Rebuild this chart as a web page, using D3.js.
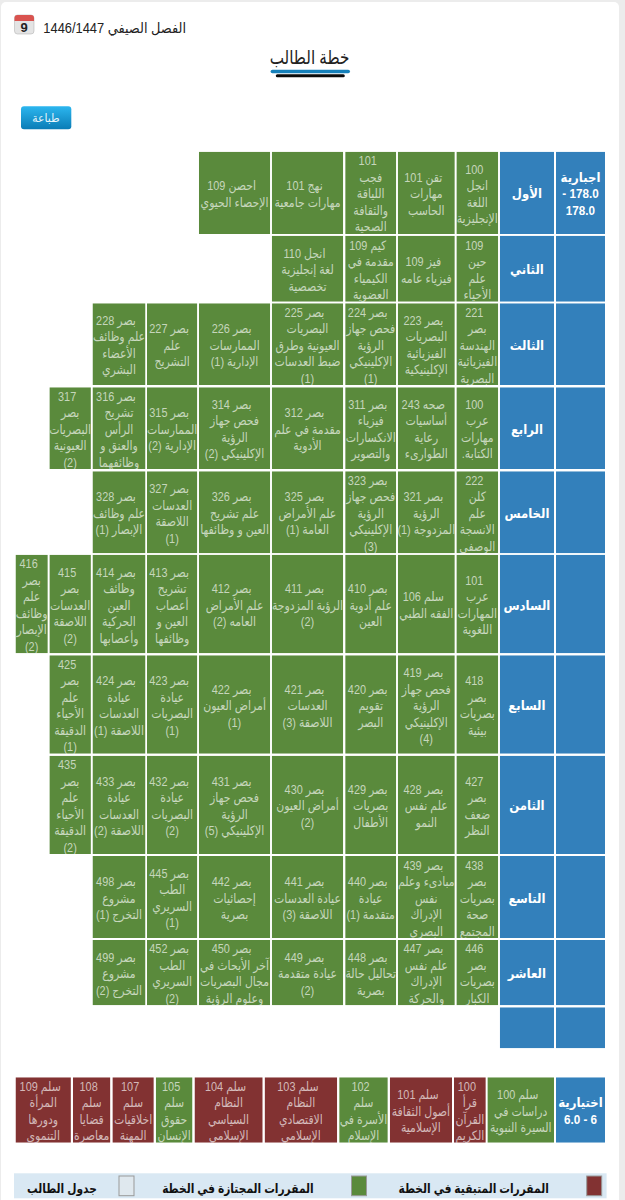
<!DOCTYPE html>
<html lang="ar" dir="rtl">
<head>
<meta charset="utf-8">
<title>خطة الطالب</title>
<script src="https://cdnjs.cloudflare.com/ajax/libs/d3/7.8.5/d3.min.js"></script>
<style>
html, body { margin: 0; padding: 0; background: #ececec; }
svg { display: block; }
text { font-family: "Liberation Sans", "DejaVu Sans", sans-serif; direction: rtl; unicode-bidi: embed; }
</style>
</head>
<body>
<script>
// lines of each course are separated by |
const levels = ["الأول", "الثاني", "الثالث", "الرابع", "الخامس", "السادس", "السابع", "الثامن", "التاسع", "العاشر", ""];

const level1 = ["100|انجل|اللغة|الإنجليزية", "تقن 101|مهارات|الحاسب", "101|فجب|اللياقة|والثقافة|الصحية", "نهج 101|مهارات جامعية", "احصن 109|الإحصاء الحيوي"];
const level2 = ["109|حين|علم|الأحياء", "فيز 109|فيزياء عامه", "كيم 109|مقدمة في|الكيمياء|العضوية", "انجل 110|لغة إنجليزية|تخصصية"];
const level3 = ["221|بصر|الهندسة|الفيزيائية|البصرية", "بصر 223|البصريات|الفيزيائية|الإكلينيكية", "بصر 224|فحص جهاز|الرؤية|الإكلينيكي|(1)", "بصر 225|البصريات|العيونية وطرق|ضبط العدسات|(1)", "بصر 226|الممارسات|الإدارية (1)", "بصر 227|علم|التشريح", "بصر 228|علم وظائف|الأعضاء|البشري"];
const level4 = ["100|عرب|مهارات|الكتابة.", "صحه 243|أساسيات|رعاية|الطوارىء", "بصر 311|فيزياء|الانكسارات|والتصوير", "بصر 312|مقدمة في علم|الأدوية", "بصر 314|فحص جهاز|الرؤية|الإكلينيكي (2)", "بصر 315|الممارسات|الإدارية (2)", "بصر 316|تشريح|الرأس|والعنق و|وظائفهما", "317|بصر|البصريات|العيونية|(2)"];
const level5 = ["222|كلن|علم|الانسجة|الوصفي", "بصر 321|الرؤية|المزدوجة (1)", "بصر 323|فحص جهاز|الرؤية|الإكلينيكي|(3)", "بصر 325|علم الأمراض|العامة (1)", "بصر 326|علم تشريح|العين و وظائفها", "بصر 327|العدسات|اللاصقة|(1)", "بصر 328|علم وظائف|الإبصار (1)"];
const level6 = ["101|عرب|المهارات|اللغوية", "سلم 106|الفقه الطبي", "بصر 410|علم أدوية|العين", "بصر 411|الرؤية المزدوجة|(2)", "بصر 412|علم الأمراض|العامه (2)", "بصر 413|تشريح|أعصاب|العين و|وظائفها", "بصر 414|وظائف|العين|الحركية|وأعصابها", "415|بصر|العدسات|اللاصقة|(2)", "416|بصر|علم|وظائف|الإبصار|(2)"];
const level7 = ["418|بصر|بصريات|بيئية", "بصر 419|فحص جهاز|الرؤية|الإكلينيكي|(4)", "بصر 420|تقويم|البصر", "بصر 421|العدسات|اللاصقة (3)", "بصر 422|أمراض العيون|(1)", "بصر 423|عيادة|البصريات|(1)", "بصر 424|عيادة|العدسات|اللاصقة (1)", "425|بصر|علم|الأحياء|الدقيقة|(1)"];
const level8 = ["427|بصر|ضعف|النظر", "بصر 428|علم نفس|النمو", "بصر 429|بصريات|الأطفال", "بصر 430|أمراض العيون|(2)", "بصر 431|فحص جهاز|الرؤية|الإكلينيكي (5)", "بصر 432|عيادة|البصريات|(2)", "بصر 433|عيادة|العدسات|اللاصقة (2)", "435|بصر|علم|الأحياء|الدقيقة|(2)"];
const level9 = ["438|بصر|بصريات|صحة|المجتمع", "بصر 439|مبادىء وعلم|نفس|الإدراك|البصري", "بصر 440|عيادة|متقدمة (1)", "بصر 441|عيادة العدسات|اللاصقة (3)", "بصر 442|إحصائيات|بصرية", "بصر 445|الطب|السريري|(1)", "بصر 498|مشروع|التخرج (1)"];
const level10 = ["446|بصر|بصريات|الكبار", "بصر 447|علم نفس|الإدراك|والحركة", "بصر 448|تحاليل حالة|بصرية", "بصر 449|عيادة متقدمة|(2)", "بصر 450|آخر الأبحاث في|مجال البصريات|وعلوم الرؤية", "بصر 452|الطب|السريري|(2)", "بصر 499|مشروع|التخرج (2)"];
const level11 = [];
const planCourses = [level1, level2, level3, level4, level5, level6, level7, level8, level9, level10, level11];

const requiredLabel = ["اجبارية", "178.0 -", "178.0"];
const electiveLabel = ["اختيارية", "6 - 6.0"];
const electiveCourses = ["سلم 100|دراسات في|السيرة النبوية", "100|قرأ|القرآن|الكريم", "سلم 101|أصول الثقافة|الإسلامية", "102|سلم|الأسرة في|الإسلام", "سلم 103|النظام|الاقتصادي|الإسلامي", "سلم 104|النظام|السياسي|الإسلامي", "105|سلم|حقوق|الإنسان", "107|سلم|اخلاقيات|المهنة", "108|سلم|قضايا|معاصرة", "سلم 109|المرأة|ودورها|التنموى"];
const electiveStatus = ["passed", "left", "left", "passed", "left", "left", "passed", "left", "left", "left"];

const legendLabels = ["المقررات المتبقية في الخطة", "المقررات المجتازة في الخطة", "جدول الطالب"];
const legendStatus = ["left", "passed", "schedule"];

// layout of the table
const colLeft = [556, 499.8, 456.4, 397.8, 345.2, 271.8, 198.9, 147, 92.5, 49.4, 15.5];
const colRight = [605, 554, 498.2, 454.8, 396.2, 343.2, 270.2, 197.3, 145.5, 90.9, 47.8];
const rowTop = [151.7, 235.7, 303.3, 387.3, 471.3, 554.7, 655.3, 755.7, 856, 940, 1007.3];
const rowBottom = [234, 301.7, 385, 469, 553.3, 653.3, 753.7, 854, 938, 1005.3, 1048.3];
const elecLeft = [487.4, 454, 389.8, 339.2, 264.6, 194.5, 155.8, 112.4, 72.9, 15.5];
const elecRight = [554, 485.8, 452, 387.8, 337.2, 262.7, 192.5, 153.8, 110.4, 70.9];

const x0 = d3.scaleOrdinal().domain(d3.range(colLeft.length)).range(colLeft);
const x1 = d3.scaleOrdinal().domain(d3.range(colRight.length)).range(colRight);
const y0 = d3.scaleOrdinal().domain(d3.range(rowTop.length)).range(rowTop);
const y1 = d3.scaleOrdinal().domain(d3.range(rowBottom.length)).range(rowBottom);
const ex0 = d3.scaleOrdinal().domain(d3.range(elecLeft.length)).range(elecLeft);
const ex1 = d3.scaleOrdinal().domain(d3.range(elecRight.length)).range(elecRight);

const statusColor = d3.scaleOrdinal()
    .domain(["passed", "left", "schedule"])
    .range(["#5a8a3c", "#823232", "#dfe8ee"]);
const blue = "#3380bb";
const cellText = "rgba(255,255,255,.66)";
const lineHeight = 16.5;
const narrow = 0.84;    // the screenshot text is stretched tall, squeeze ours the same way

const svg = d3.select("body").append("svg")
    .attr("width", 625)
    .attr("height", 1200)
    .attr("dir", "ltr");

svg.append("rect")
    .attr("x", 1).attr("y", 2)
    .attr("width", 618).attr("height", 1210)
    .attr("rx", 5)
    .attr("fill", "#fff");

const defs = svg.append("defs");
const btnGrad = defs.append("linearGradient")
    .attr("id", "btnGrad")
    .attr("x1", 0).attr("y1", 0).attr("x2", 0).attr("y2", 1);
btnGrad.append("stop").attr("offset", "0").attr("stop-color", "#2cb6ef");
btnGrad.append("stop").attr("offset", "1").attr("stop-color", "#0a7cb6");

function squeezed(g, x, y, str, size, sx, weight, fill, anchor) {
    return g.append("text")
        .attr("transform", `translate(${x},${y}) scale(${sx},1)`)
        .attr("dy", "0.35em")
        .attr("text-anchor", anchor || "middle")
        .attr("font-size", size)
        .attr("font-weight", weight || "normal")
        .attr("fill", fill)
        .text(str);
}

// draws a rect with centred lines of text, the nested svg clips what overflows
function drawCell(g, x, y, w, h, fill, lines, opts) {
    opts = opts || {};
    const cell = g.append("svg")
        .attr("x", x).attr("y", y)
        .attr("width", w).attr("height", h);
    cell.append("rect")
        .attr("width", w).attr("height", h)
        .attr("fill", fill);
    const top = h / 2 - (lines.length - 1) * lineHeight / 2 + 1;
    lines.forEach((line, i) => {
        squeezed(cell, w / 2 - (i == 0 && !opts.bold ? 3 : 0), top + i * lineHeight, line,
            opts.size || 13, opts.bold ? 0.9 : narrow, opts.bold ? "bold" : "normal", opts.color || cellText);
    });
}

// main plan table
const table = svg.append("g");
drawCell(table, x0(0), y0(0), x1(0) - x0(0), y1(0) - y0(0), blue, requiredLabel, {bold: true, color: "#fff", size: 13});
levels.forEach((name, r) => {
    if (r > 0) {
        drawCell(table, x0(0), y0(r), x1(0) - x0(0), y1(r) - y0(r), blue, []);
    }
    drawCell(table, x0(1), y0(r), x1(1) - x0(1), y1(r) - y0(r), blue, name ? [name] : [], {bold: true, color: "#fff", size: 13});
    planCourses[r].forEach((course, i) => {
        const c = i + 2;
        drawCell(table, x0(c), y0(r), x1(c) - x0(c), y1(r) - y0(r), statusColor("passed"), course.split("|"));
    });
});

// electives row
const elecTop = 1077.3, elecBottom = 1142.7;
drawCell(table, x0(0), elecTop, x1(0) - x0(0), elecBottom - elecTop, blue, electiveLabel, {bold: true, color: "#fff", size: 13});
electiveCourses.forEach((course, i) => {
    drawCell(table, ex0(i), elecTop, ex1(i) - ex0(i), elecBottom - elecTop, statusColor(electiveStatus[i]), course.split("|"));
});

// header
const icon = svg.append("g");
icon.append("rect").attr("x", 14.5).attr("y", 15).attr("width", 19.5).attr("height", 19).attr("rx", 3).attr("fill", "#e4e4e4").attr("stroke", "#aaa").attr("stroke-width", 0.5);
icon.append("path").attr("d", "M14.5 21v-3a3 3 0 0 1 3-3h13.5a3 3 0 0 1 3 3v3z").attr("fill", "#d9534f");
icon.append("text").attr("x", 24.2).attr("y", 32).attr("text-anchor", "middle").attr("font-size", 13).attr("font-weight", "bold").attr("fill", "#222").style("direction", "ltr").text("9");

squeezed(svg, 186, 28, "الفصل الصيفي 1446/1447", 14, 0.92, "normal", "#222", "start");
squeezed(svg, 309.5, 57, "خطة الطالب", 19, 0.8, "normal", "#222");
svg.append("rect").attr("x", 270.6).attr("y", 69.7).attr("width", 79.4).attr("height", 3.6).attr("rx", 1.8).attr("fill", "#1580ba");
svg.append("rect").attr("x", 275.8).attr("y", 74.3).attr("width", 69).attr("height", 3).attr("rx", 1.5).attr("fill", "#0b0b0b");

// print button
svg.append("rect").attr("x", 21).attr("y", 106.3).attr("width", 50.3).attr("height", 23).attr("rx", 3).attr("fill", "url(#btnGrad)");
squeezed(svg, 46, 117.5, "طباعة", 12, 0.9, "normal", "#e8f6fc");

// legend strip
svg.append("rect").attr("x", 14).attr("y", 1173.3).attr("width", 592.6).attr("height", 25).attr("fill", "#d9e8f3");
const legendSwatch = [586.7, 351.5, 119];
const legendTextRight = [548.8, 313.7, 96.9];
legendLabels.forEach((label, i) => {
    svg.append("rect")
        .attr("x", legendSwatch[i])
        .attr("y", 1176)
        .attr("width", 15)
        .attr("height", 19.7)
        .attr("fill", statusColor(legendStatus[i]))
        .attr("stroke", "#999")
        .attr("stroke-width", 1);
    squeezed(svg, legendTextRight[i], 1188, label, 13, 0.82, "bold", "#111", "start");
});
</script>
</body>
</html>
